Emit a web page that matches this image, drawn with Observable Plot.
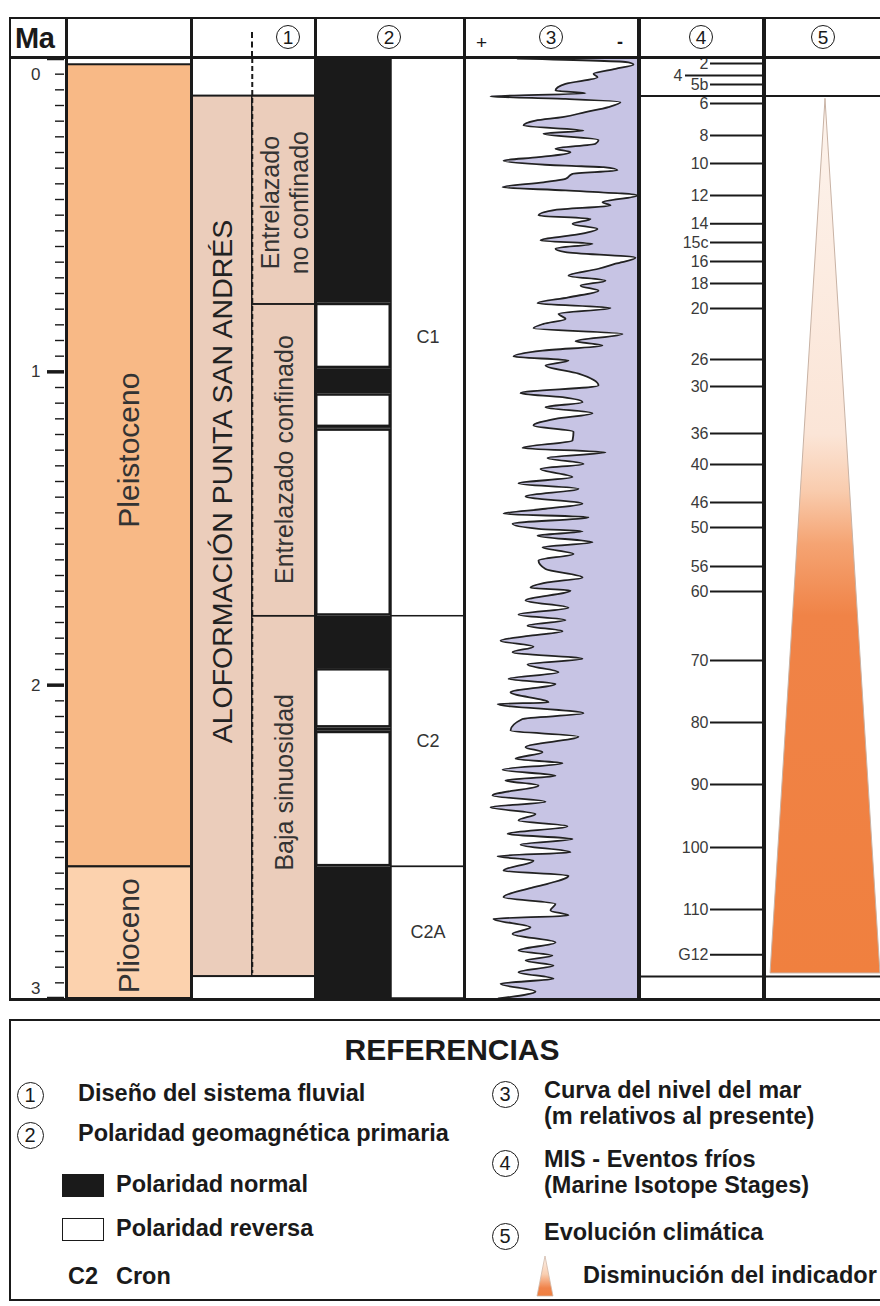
<!DOCTYPE html>
<html><head><meta charset="utf-8">
<script src="https://cdn.jsdelivr.net/npm/d3@7"></script>
<script src="https://cdn.jsdelivr.net/npm/@observablehq/plot@0.6"></script>
<style>
body{margin:0;background:#fff;}
#root{position:relative;width:880px;height:1306px;overflow:hidden;font-family:"Liberation Sans",Arial,sans-serif;color:#1a1a1a;}
.ln{position:absolute;background:#1a1a1a;}
.circ{position:absolute;border:1.8px solid #1a1a1a;border-radius:50%;display:flex;align-items:center;justify-content:center;box-sizing:border-box;line-height:1;color:#1a1a1a;}
.col{position:absolute;top:57px;height:942px;}
.col svg{display:block;max-width:none;background:transparent;}
.txt{position:absolute;white-space:nowrap;transform:translateY(-50%);line-height:1;}
.lg{position:absolute;font-family:"Liberation Sans Narrow","Liberation Sans",Arial,sans-serif;font-weight:bold;font-size:23.5px;white-space:nowrap;transform:translateY(-50%);line-height:1;color:#1a1a1a;}
</style></head><body><div id="root"></div>
<script>
// ---------------- DATA ----------------
const maMajor = [0, 1, 2, 3];
const maMinor = d3.range(1, 60).filter(i => i % 20 !== 0).map(i => i * 0.05);

const epochNames = ["Pleistoceno", "Plioceno"];
const epochTop = [0.02, 2.58];
const epochBase = [2.58, 3.0];
const epochLabelAt = [1.25, 2.80];

const aloName = "ALOFORMACIÓN PUNTA SAN ANDRÉS";
const aloTop = 0.12, aloBase = 2.93, aloLabelAt = 1.35;
const fluvialNames = ["Entrelazado\nno confinado", "Entrelazado confinado", "Baja sinuosidad"];
const fluvialTop = [0.12, 0.785, 1.78];
const fluvialBase = [0.785, 1.78, 2.93];
const fluvialLabelAt = [0.46, 1.28, 2.31];

const polarityType = ["N", "R", "N", "R", "N", "R", "N", "R", "N", "R", "N"];
const polarityTop  = [0, 0.781, 0.99, 1.07, 1.178, 1.182, 1.78, 1.947, 2.137, 2.147, 2.58];
const polarityBase = [0.781, 0.99, 1.07, 1.178, 1.182, 1.78, 1.947, 2.137, 2.147, 2.58, 3.0];

const chronNames = ["C1", "C2", "C2A"];
const chronTop = [0, 1.78, 2.58];
const chronBase = [1.78, 2.58, 3.0];

const misLabels = ["2","4","5b","6","8","10","12","14","15c","16","18","20","26","30","36","40","46","50","56","60","70","80","90","100","110","G12"];
const misAge = [0.016,0.054,0.083,0.144,0.246,0.335,0.437,0.527,0.587,0.648,0.718,0.798,0.961,1.047,1.197,1.296,1.417,1.497,1.621,1.701,1.921,2.119,2.317,2.518,2.716,2.860];

// sea level (m relative to present) vs age (Ma)
const seaAge = [0.000,0.012,0.019,0.033,0.049,0.060,0.081,0.102,0.111,0.121,0.129,0.139,0.155,0.171,0.187,0.198,0.214,0.230,0.240,0.260,0.272,0.288,0.299,0.315,0.326,0.342,0.347,0.357,0.368,0.384,0.395,0.411,0.421,0.437,0.459,0.469,0.483,0.501,0.512,0.528,0.544,0.558,0.581,0.591,0.607,0.618,0.636,0.655,0.671,0.693,0.709,0.725,0.741,0.762,0.781,0.796,0.815,0.831,0.847,0.861,0.879,0.902,0.916,0.932,0.951,0.964,0.980,
1.006,1.044,1.068,1.081,1.097,1.113,1.132,1.150,1.171,1.191,1.219,1.243,1.257,1.275,1.294,1.310,1.336,1.356,1.373,1.398,1.421,1.437,1.453,1.464,1.485,1.501,1.509,1.523,1.544,1.560,1.581,1.602,1.629,1.656,1.672,1.689,1.698,1.730,1.753,1.775,1.792,1.810,1.828,1.842,1.858,1.877,1.895,1.916,1.934,1.959,1.980,
1.996,2.023,2.055,2.060,2.090,2.108,2.145,2.164,2.198,2.214,2.235,2.249,2.270,2.289,2.304,2.320,2.352,2.372,2.390,2.411,2.432,2.450,2.475,2.491,2.509,2.533,2.546,2.560,2.592,2.608,2.634,2.650,2.677,2.698,2.719,2.735,2.746,2.773,2.794,2.821,2.847,2.863,2.879,2.895,2.916,2.937,2.953,2.978,3.000];
const seaLevel = [0,-111,-116,-98,-76,-80,-48,-38,-68,27,-48,-103,-91,-68,-45,-18,-6,-66,-26,-81,-78,-38,-53,-21,14,-48,-86,-100,-55,-48,-26,15,-48,-120,-85,-93,-38,-21,-73,-55,-80,-66,-23,-75,-38,-48,-118,-98,-81,-51,-88,-63,-81,-51,-20,-93,-41,-48,-26,-16,-105,-58,-85,-25,4,-51,-28,
-61,-81,-3,-45,-65,-28,-75,-38,-16,-56,-55,-5,-88,-30,-66,-23,-55,-1,-61,-8,-65,-28,14,-71,5,-21,-65,-20,-75,-25,-56,-21,-28,-65,-30,-13,-53,-8,-51,-1,-48,-10,-45,-13,17,-16,5,-65,-10,-41,9,
-38,7,-31,20,-66,-5,7,-61,-8,-25,2,-45,15,-38,12,-21,25,-28,27,-18,-1,-50,10,-55,-3,-53,20,-16,14,-51,-30,-10,14,-38,-33,-51,24,-13,5,-38,-1,-35,-8,-36,-1,-36,17,-18,19];

const climateAge = [0.13, 2.92];
const climateWidth = [0, 1];

// ---------------- TABLES ----------------
const epochs = epochNames.map((name, i) => ({name, top: epochTop[i], base: epochBase[i], at: epochLabelAt[i]}));
const fluvial = fluvialNames.map((name, i) => ({name, top: fluvialTop[i], base: fluvialBase[i], at: fluvialLabelAt[i]}));
const polar = polarityType.map((p, i) => ({p, top: polarityTop[i], base: polarityBase[i]}));
const chrons = chronNames.map((name, i) => ({name, top: chronTop[i], base: chronBase[i]}));
const mis = misLabels.map((label, i) => ({label, age: misAge[i]}));
const sea = seaAge.map((age, i) => ({age, m: seaLevel[i]}));
const climate = climateAge.map((age, i) => ({age, w: climateWidth[i]}));
const mid = d => (d.top + d.base) / 2;

// ---------------- LAYOUT ----------------
const root = document.getElementById("root");
function el(cls, style, html) {
  const d = document.createElement("div");
  d.className = cls; Object.assign(d.style, style);
  if (html !== undefined) d.innerHTML = html;
  root.appendChild(d); return d;
}
const H = 942;
const FONT = "Liberation Sans, Arial, sans-serif";
function base(width, opts) {
  return Object.assign({
    width, height: H, marginTop: 1, marginBottom: 1, marginLeft: 0, marginRight: 0,
    y: {domain: [0, 3], reverse: true, axis: null},
    x: {domain: [0, 1], axis: null},
    style: {background: "transparent", fontFamily: FONT, overflow: "visible"}
  }, opts);
}
function place(left, width, plot) {
  const c = el("col", {left: left + "px", width: width + "px"});
  c.appendChild(plot); return plot;
}

// Ma axis
place(10, 56, Plot.plot(base(56, {marginLeft: 37, marginRight: 2, marks: [
  Plot.tickY(maMajor, {y: d => d, stroke: "#1a1a1a", strokeWidth: 3.5}),
  Plot.tickY(maMinor, {y: d => d, insetLeft: 8, stroke: "#1a1a1a", strokeWidth: 1.4}),
  Plot.text(maMajor.filter(d => d > 0 && d < 3), {y: d => d, text: d => String(d), frameAnchor: "left", dx: -7, textAnchor: "end", fontSize: 17, fill: "#333"}),
  Plot.text([0], {y: d => d, text: d => String(d), frameAnchor: "left", dx: -7, dy: 16, textAnchor: "end", fontSize: 17, fill: "#333"}),
  Plot.text([3], {y: d => d, text: d => String(d), frameAnchor: "left", dx: -7, dy: -10, textAnchor: "end", fontSize: 17, fill: "#333"})
]})));

// Epochs
place(66, 125, Plot.plot(base(125, {
  color: {domain: epochNames, range: ["#f8b986", "#fcd2ae"]},
  marks: [
    Plot.rect(epochs, {x1: 0, x2: 1, y1: "top", y2: "base", fill: "name", stroke: "#1a1a1a", strokeWidth: 2}),
    Plot.text(epochs, {x: 0.5, y: "at", text: "name", rotate: -90, fontSize: 30, fill: "#333"})
  ]})));

// Aloformación
place(191, 124, Plot.plot(base(124, {marks: [
  Plot.rect([{top: aloTop, base: aloBase}], {x1: 0, x2: 1, y1: "top", y2: "base", fill: "#ebcdbb", stroke: "#1a1a1a", strokeWidth: 2}),
  Plot.rect(fluvial, {x1: 0.49, x2: 1, y1: "top", y2: "base", fill: "none", stroke: "#1a1a1a", strokeWidth: 1.5}),
  Plot.ruleX([0.49], {y1: 0, y2: aloBase - 0.01, stroke: "#1a1a1a", strokeWidth: 2, strokeDasharray: "5,3"}),
  Plot.text([aloName], {x: 0.25, y: aloLabelAt, text: d => d, rotate: -90, fontSize: 28.5, fill: "#222"}),
  Plot.text(fluvial, {x: 0.745, y: "at", text: "name", rotate: -90, fontSize: 25, lineHeight: 1.16, fill: "#333"})
]})));

// Polarity + chrons
place(315, 149, Plot.plot(base(149, {marks: [
  Plot.rect(polar, {x1: 0, x2: 0.51, y1: "top", y2: "base", fill: "#1a1a1a"}),
  Plot.rect(polar.filter(d => d.p === "R"), {x1: 0, x2: 0.51, y1: "top", y2: "base", fill: "white", inset: 2.5}),
  Plot.rect(chrons, {x1: 0.51, x2: 1, y1: "top", y2: "base", fill: "white", stroke: "#1a1a1a", strokeWidth: 1.5}),
  Plot.text(chrons, {x: 0.755, y: mid, text: "name", fontSize: 18, fill: "#333"})
]})));

// Sea level
place(464, 175, Plot.plot(base(175, {marginLeft: 2, marginRight: 2,
  x: {domain: [51, -120], axis: null},
  marks: [
    Plot.areaX(sea, {y: "age", x1: "m", x2: -120, fill: "#c7c4e4", curve: "monotone-y"}),
    Plot.line(sea, {x: "m", y: "age", stroke: "#222", strokeWidth: 1.8, curve: "monotone-y"})
  ]})));

// MIS
place(639, 125, Plot.plot(base(125, {marks: [
  Plot.ruleY([aloTop, aloBase], {stroke: "#1a1a1a", strokeWidth: 2}),
  Plot.tickY(mis.filter(d => d.label !== "4"), {y: "age", insetLeft: 71, stroke: "#1a1a1a", strokeWidth: 2}),
  Plot.tickY(mis.filter(d => d.label === "4"), {y: "age", insetLeft: 46, stroke: "#1a1a1a", strokeWidth: 2}),
  Plot.text(mis.filter(d => d.label !== "4"), {y: "age", text: "label", frameAnchor: "left", dx: 69, textAnchor: "end", fontSize: 16, fill: "#3a3a3a"}),
  Plot.text(mis.filter(d => d.label === "4"), {y: "age", text: "label", frameAnchor: "left", dx: 43, textAnchor: "end", fontSize: 16, fill: "#3a3a3a"})
]})));

// Climate
const climPlot = place(764, 122, Plot.plot(base(122, {
  x: {domain: [-1.11, 1.11], axis: null},
  marks: [
    Plot.areaX(climate, {y: "age", x1: d => -d.w, x2: d => d.w, fill: "url(#climGrad)", stroke: "#c8b2a4", strokeWidth: 1}),
    Plot.ruleY([aloTop, aloBase], {stroke: "#1a1a1a", strokeWidth: 2})
  ]})));
{
  const ys = climPlot.scale("y");
  const gradAge = [0.13, 1.2, 1.38, 1.55, 1.78, 2.92];
  const gradCol = ["#fdf3ec", "#fbe5d7", "#f9ccae", "#f5a473", "#f08347", "#f0803f"];
  const svg = d3.select(climPlot);
  const lg = svg.insert("defs", ":first-child").append("linearGradient")
    .attr("id", "climGrad").attr("gradientUnits", "userSpaceOnUse")
    .attr("x1", 0).attr("x2", 0).attr("y1", ys.apply(gradAge[0])).attr("y2", ys.apply(gradAge[gradAge.length - 1]));
  gradAge.forEach((a, i) => lg.append("stop")
    .attr("offset", (a - gradAge[0]) / (gradAge[gradAge.length - 1] - gradAge[0]))
    .attr("stop-color", gradCol[i]));
}

// ---------------- FRAME LINES ----------------
[[10, 2], [66, 3], [191, 3], [315, 3], [464, 3], [639, 4], [764, 4]].forEach(([x, w]) =>
  el("ln", {left: (x - w / 2) + "px", top: "17px", width: w + "px", height: "983px"}));
el("ln", {left: "9px", top: "17px", width: "880px", height: "2px"});
el("ln", {left: "9px", top: "56px", width: "880px", height: "2.5px"});
el("ln", {left: "9px", top: "998px", width: "880px", height: "3px"});
// dashed line through header
el("", {position: "absolute", left: "251px", top: "32px", height: "25px", width: "0", borderLeft: "2px dashed #1a1a1a"});

// ---------------- HEADER ----------------
el("txt", {left: "15px", top: "38px", fontWeight: "bold", fontSize: "29px", letterSpacing: "-0.5px"}, "Ma");
function circ(n, cx, cy, d, fs) {
  el("circ", {left: (cx - d / 2) + "px", top: (cy - d / 2) + "px", width: d + "px", height: d + "px", fontSize: fs + "px"}, String(n));
}
circ(1, 288, 37, 24, 19); circ(2, 389, 37, 24, 19); circ(3, 551, 37, 24, 19); circ(4, 701, 37, 24, 19); circ(5, 823, 37, 24, 19);
el("txt", {left: "476px", top: "42px", fontSize: "19px"}, "+");
el("txt", {left: "617px", top: "42px", fontSize: "18px", fontWeight: "bold"}, "-");

// ---------------- LEGEND ----------------
el("", {position: "absolute", left: "9px", top: "1019px", width: "900px", height: "282px", border: "2px solid #1a1a1a", boxSizing: "border-box"});
el("lg", {left: "452px", top: "1050px", fontSize: "30px", transform: "translate(-50%,-50%)"}, "REFERENCIAS");
circ(1, 30, 1095, 27, 20); el("lg", {left: "78px", top: "1094px"}, "Diseño del sistema fluvial");
circ(2, 30, 1135, 27, 20); el("lg", {left: "78px", top: "1134px"}, "Polaridad geomagnética primaria");
el("", {position: "absolute", left: "62px", top: "1174px", width: "42px", height: "23px", background: "#1a1a1a"});
el("lg", {left: "116px", top: "1185px"}, "Polaridad normal");
el("", {position: "absolute", left: "62px", top: "1218px", width: "42px", height: "23px", border: "1.6px solid #1a1a1a", boxSizing: "border-box", background: "#fff"});
el("lg", {left: "116px", top: "1229px"}, "Polaridad reversa");
el("lg", {left: "68px", top: "1277px"}, "C2");
el("lg", {left: "116px", top: "1277px"}, "Cron");
circ(3, 505, 1094, 27, 20); el("lg", {left: "544px", top: "1091px"}, "Curva del nivel del mar");
el("lg", {left: "544px", top: "1117px"}, "(m relativos al presente)");
circ(4, 505, 1163, 27, 20); el("lg", {left: "544px", top: "1160px"}, "MIS - Eventos fríos");
el("lg", {left: "544px", top: "1186px"}, "(Marine Isotope Stages)");
circ(5, 505, 1236, 27, 20); el("lg", {left: "544px", top: "1233px"}, "Evolución climática");
el("", {position: "absolute", left: "535px", top: "1255px", width: "20px", height: "42px"},
  '<svg width="20" height="42"><defs><linearGradient id="lgGrad" x1="0" x2="0" y1="0" y2="1"><stop offset="0" stop-color="#fdf3ec"/><stop offset="0.45" stop-color="#f9cfb2"/><stop offset="0.8" stop-color="#f0834a"/><stop offset="1" stop-color="#ef7f3e"/></linearGradient></defs><path d="M10,1 L18,41 L2,41 Z" fill="url(#lgGrad)" stroke="#d0b9aa" stroke-width="0.8"/></svg>');
el("lg", {left: "583px", top: "1276px"}, "Disminución del indicador");
</script>
</body></html>
